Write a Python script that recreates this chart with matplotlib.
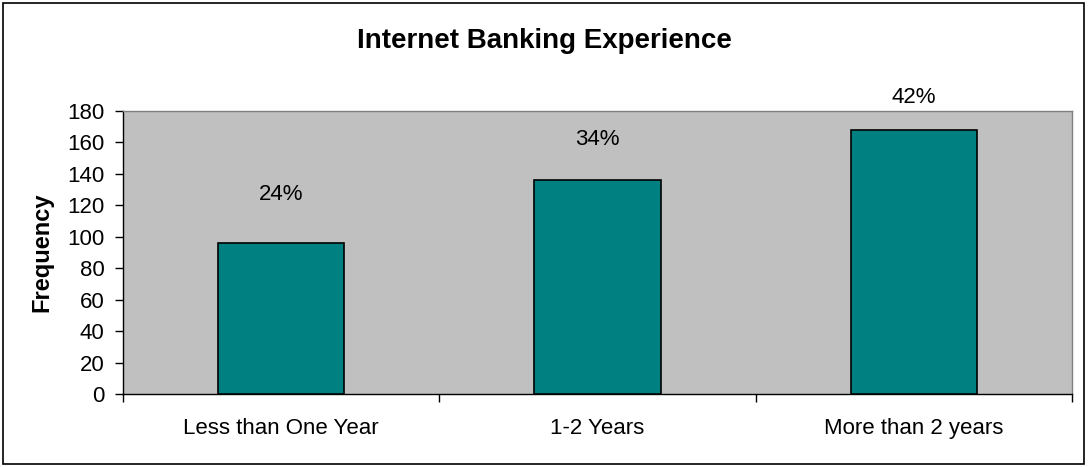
import matplotlib
matplotlib.use("Agg")
import matplotlib.pyplot as plt
from matplotlib.patches import Rectangle

categories = ["Less than One Year", "1-2 Years", "More than 2 years"]
frequency = [96, 136, 168]
pct_labels = ["24%", "34%", "42%"]
label_y = [123, 158, 185]

plt.rcParams['font.family'] = ['Liberation Sans', 'DejaVu Sans']

fig = plt.figure(figsize=(10.88, 4.67), dpi=100)
fig.patch.set_facecolor('white')
fig.patches.append(Rectangle((0.003, 0.006), 0.993, 0.988, transform=fig.transFigure,
                             fill=False, edgecolor='black', linewidth=1.2))

ax = fig.add_axes([0.1128, 0.1557, 0.8725, 0.6073])
ax.set_facecolor('#C0C0C0')
x = list(range(len(categories)))
ax.bar(x, frequency, width=0.40, color='#008080', edgecolor='black', linewidth=1.2, zorder=3)

for xi, t, yy in zip(x, pct_labels, label_y):
    ax.text(xi, yy, t, ha='center', va='baseline', fontsize=16, clip_on=False)

ax.set_xlim(-0.5, len(categories) - 0.5)
ax.set_ylim(0, 180)
ax.set_yticks(range(0, 181, 20))
ax.tick_params(axis='y', direction='out', length=6, width=1, labelsize=16, pad=7)
ax.set_xticks([-0.5, 0.5, 1.5, 2.5])
ax.set_xticklabels([])
ax.set_xticks(x, minor=True)
ax.set_xticklabels(categories, minor=True, fontsize=16)
ax.tick_params(axis='x', which='major', direction='out', length=6, width=1)
ax.tick_params(axis='x', which='minor', length=0, pad=17)

for s in ['top', 'right']:
    ax.spines[s].set_color('#808080')
    ax.spines[s].set_linewidth(1)
for s in ['left', 'bottom']:
    ax.spines[s].set_color('black')
    ax.spines[s].set_linewidth(1)

ax.set_ylabel("Frequency", fontsize=17, fontweight='bold')
ax.yaxis.set_label_coords(-0.0734, 0.5)
fig.text(0.5, 1 - 48 / 467, "Internet Banking Experience", ha='center', va='baseline',
         fontsize=20, fontweight='bold')

fig.savefig("out.png", dpi=100)
